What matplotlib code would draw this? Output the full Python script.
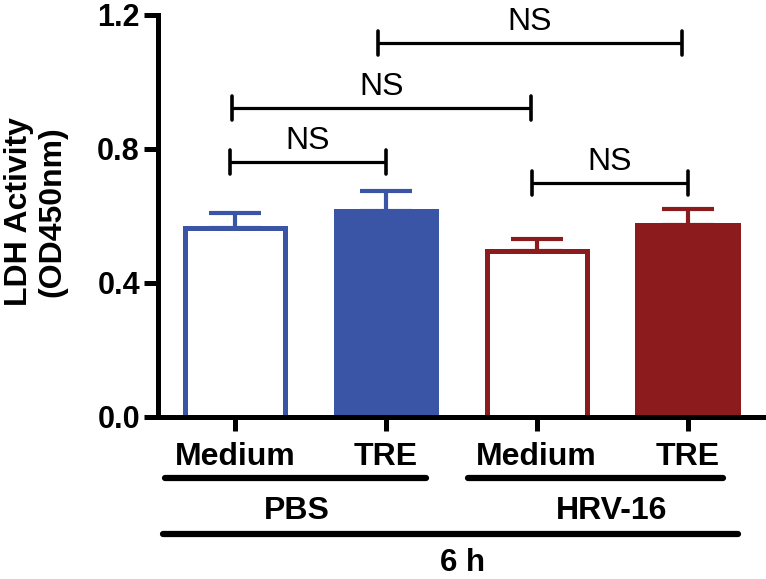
import matplotlib
matplotlib.use("Agg")
import matplotlib.pyplot as plt
import numpy as np

plt.rcParams["font.family"] = ["Liberation Sans", "DejaVu Sans"]
plt.rcParams["font.weight"] = "bold"

# data
treatments = ["Medium", "TRE", "Medium", "TRE"]
groups = ["PBS", "HRV-16"]
timepoint = "6 h"
ldh_mean = [0.563, 0.615, 0.496, 0.573]
ldh_sem = [0.046, 0.060, 0.035, 0.048]

# significance brackets: (left x, right x, bar height, label)
sig_left = [0.95, -0.02, -0.03, 1.97]
sig_right = [2.96, 1.96, 1.00, 3.00]
sig_height = [1.116, 0.922, 0.761, 0.699]
sig_text = ["NS", "NS", "NS", "NS"]

BLUE = "#3A55A5"
RED = "#8C1B1E"
edge_colors = [BLUE, BLUE, RED, RED]
face_colors = ["white", BLUE, "white", RED]

fig = plt.figure(figsize=(7.66, 5.79), dpi=100)
W, H = 766, 579
ax = fig.add_axes([158 / W, 1 - 417 / H, (763 - 158) / W, (417 - 15) / H])

x = np.arange(len(treatments))

# error bars (upper only) drawn behind the bars
for xi, m, s, c in zip(x, ldh_mean, ldh_sem, edge_colors):
    ax.errorbar([xi], [m], yerr=[[0], [s]], fmt="none", ecolor=c,
                elinewidth=3.0, capsize=18.7, capthick=3.0, zorder=1)
ax.bar(x, ldh_mean, width=0.665, color=face_colors, edgecolor=edge_colors,
       linewidth=3.6, zorder=2)

ax.set_xlim(-0.51, 3.5)
ax.set_ylim(0, 1.2)
ax.set_yticks([0.0, 0.4, 0.8, 1.2])
ax.set_yticklabels(["0.0", "0.4", "0.8", "1.2"], fontsize=22, fontweight="bold")
ax.set_xticks(x)
ax.set_xticklabels(treatments, fontsize=23, fontweight="bold")

for side in ["top", "right"]:
    ax.spines[side].set_visible(False)
for side in ["left", "bottom"]:
    ax.spines[side].set_linewidth(3.6)
    ax.spines[side].set_capstyle("projecting")
ax.tick_params(axis="both", width=3.6, length=10, direction="out")
ax.tick_params(axis="x", pad=8)
ax.tick_params(axis="y", pad=3)

# significance brackets
tick_h = 0.036
for x1, x2, yb, lab in zip(sig_left, sig_right, sig_height, sig_text):
    ax.plot([x1, x2], [yb, yb], color="black", lw=2.3, clip_on=False,
            solid_capstyle="butt")
    for xe in (x1, x2):
        ax.plot([xe, xe], [yb - tick_h, yb + tick_h], color="black", lw=2.6,
                clip_on=False, solid_capstyle="round")
    ax.text((x1 + x2) / 2, yb + 0.038, lab, ha="center", va="baseline",
            fontsize=23, fontweight="normal", clip_on=False)

# grouping lines and labels below the axis
trans = ax.get_xaxis_transform()
group_spans = [(-0.465, 1.267), (1.546, 3.238)]
group_text_x = [0.41, 2.495]
for (g1, g2), gx, g in zip(group_spans, group_text_x, groups):
    ax.plot([g1, g2], [-0.152, -0.152], transform=trans, color="black",
            lw=4.5, clip_on=False, solid_capstyle="round")
    ax.text(gx, -0.2525, g, transform=trans, ha="center", va="baseline",
            fontsize=23, fontweight="bold")

ax.plot([-0.478, 3.331], [-0.291, -0.291], transform=trans, color="black",
        lw=4.5, clip_on=False, solid_capstyle="round")
ax.text(1.506, -0.382, timepoint, transform=trans, ha="center", va="baseline",
        fontsize=22.5, fontweight="bold")

# y axis label
fig.text(36 / W, 1 - 212 / H, "LDH Activity\n(OD450nm)", rotation=90,
         ha="center", va="center", fontsize=23, fontweight="bold",
         linespacing=1.15, multialignment="center")

fig.savefig("out.png", dpi=100)
